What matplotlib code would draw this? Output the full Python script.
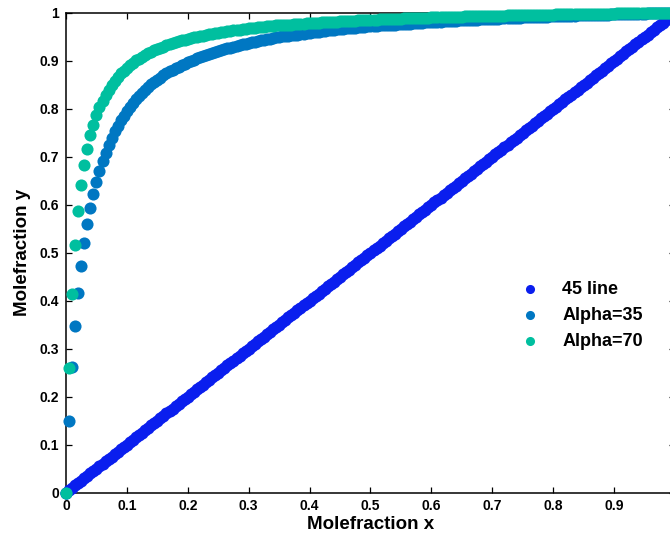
import matplotlib
matplotlib.use("Agg")
import matplotlib.pyplot as plt

plt.rcParams['font.family'] = ['Liberation Sans', 'DejaVu Sans']
plt.rcParams['font.weight'] = 'bold'

# liquid mole fraction x (evenly spaced markers)
mole_x = [
    0.000,
    0.005, 0.010, 0.015, 0.020, 0.025, 0.030, 0.035, 0.040, 0.045, 0.050,
    0.055, 0.060, 0.065, 0.070, 0.075, 0.080, 0.085, 0.090, 0.095, 0.100,
    0.105, 0.110, 0.115, 0.120, 0.125, 0.130, 0.135, 0.140, 0.145, 0.150,
    0.155, 0.160, 0.165, 0.170, 0.175, 0.180, 0.185, 0.190, 0.195, 0.200,
    0.205, 0.210, 0.215, 0.220, 0.225, 0.230, 0.235, 0.240, 0.245, 0.250,
    0.255, 0.260, 0.265, 0.270, 0.275, 0.280, 0.285, 0.290, 0.295, 0.300,
    0.305, 0.310, 0.315, 0.320, 0.325, 0.330, 0.335, 0.340, 0.345, 0.350,
    0.355, 0.360, 0.365, 0.370, 0.375, 0.380, 0.385, 0.390, 0.395, 0.400,
    0.405, 0.410, 0.415, 0.420, 0.425, 0.430, 0.435, 0.440, 0.445, 0.450,
    0.455, 0.460, 0.465, 0.470, 0.475, 0.480, 0.485, 0.490, 0.495, 0.500,
    0.505, 0.510, 0.515, 0.520, 0.525, 0.530, 0.535, 0.540, 0.545, 0.550,
    0.555, 0.560, 0.565, 0.570, 0.575, 0.580, 0.585, 0.590, 0.595, 0.600,
    0.605, 0.610, 0.615, 0.620, 0.625, 0.630, 0.635, 0.640, 0.645, 0.650,
    0.655, 0.660, 0.665, 0.670, 0.675, 0.680, 0.685, 0.690, 0.695, 0.700,
    0.705, 0.710, 0.715, 0.720, 0.725, 0.730, 0.735, 0.740, 0.745, 0.750,
    0.755, 0.760, 0.765, 0.770, 0.775, 0.780, 0.785, 0.790, 0.795, 0.800,
    0.805, 0.810, 0.815, 0.820, 0.825, 0.830, 0.835, 0.840, 0.845, 0.850,
    0.855, 0.860, 0.865, 0.870, 0.875, 0.880, 0.885, 0.890, 0.895, 0.900,
    0.905, 0.910, 0.915, 0.920, 0.925, 0.930, 0.935, 0.940, 0.945, 0.950,
    0.955, 0.960, 0.965, 0.970, 0.975, 0.980, 0.985, 0.990, 0.995, 1.000,
]

# 45-degree line: y equals x
y_45line = [
    0.000,
    0.005, 0.010, 0.015, 0.020, 0.025, 0.030, 0.035, 0.040, 0.045, 0.050,
    0.055, 0.060, 0.065, 0.070, 0.075, 0.080, 0.085, 0.090, 0.095, 0.100,
    0.105, 0.110, 0.115, 0.120, 0.125, 0.130, 0.135, 0.140, 0.145, 0.150,
    0.155, 0.160, 0.165, 0.170, 0.175, 0.180, 0.185, 0.190, 0.195, 0.200,
    0.205, 0.210, 0.215, 0.220, 0.225, 0.230, 0.235, 0.240, 0.245, 0.250,
    0.255, 0.260, 0.265, 0.270, 0.275, 0.280, 0.285, 0.290, 0.295, 0.300,
    0.305, 0.310, 0.315, 0.320, 0.325, 0.330, 0.335, 0.340, 0.345, 0.350,
    0.355, 0.360, 0.365, 0.370, 0.375, 0.380, 0.385, 0.390, 0.395, 0.400,
    0.405, 0.410, 0.415, 0.420, 0.425, 0.430, 0.435, 0.440, 0.445, 0.450,
    0.455, 0.460, 0.465, 0.470, 0.475, 0.480, 0.485, 0.490, 0.495, 0.500,
    0.505, 0.510, 0.515, 0.520, 0.525, 0.530, 0.535, 0.540, 0.545, 0.550,
    0.555, 0.560, 0.565, 0.570, 0.575, 0.580, 0.585, 0.590, 0.595, 0.600,
    0.605, 0.610, 0.615, 0.620, 0.625, 0.630, 0.635, 0.640, 0.645, 0.650,
    0.655, 0.660, 0.665, 0.670, 0.675, 0.680, 0.685, 0.690, 0.695, 0.700,
    0.705, 0.710, 0.715, 0.720, 0.725, 0.730, 0.735, 0.740, 0.745, 0.750,
    0.755, 0.760, 0.765, 0.770, 0.775, 0.780, 0.785, 0.790, 0.795, 0.800,
    0.805, 0.810, 0.815, 0.820, 0.825, 0.830, 0.835, 0.840, 0.845, 0.850,
    0.855, 0.860, 0.865, 0.870, 0.875, 0.880, 0.885, 0.890, 0.895, 0.900,
    0.905, 0.910, 0.915, 0.920, 0.925, 0.930, 0.935, 0.940, 0.945, 0.950,
    0.955, 0.960, 0.965, 0.970, 0.975, 0.980, 0.985, 0.990, 0.995, 1.000,
]

y_alpha35 = [
    0.000,
    0.150, 0.261, 0.348, 0.417, 0.473, 0.520, 0.559, 0.593, 0.623, 0.648,
    0.671, 0.691, 0.709, 0.725, 0.739, 0.753, 0.765, 0.776, 0.786, 0.795,
    0.804, 0.812, 0.820, 0.827, 0.833, 0.839, 0.845, 0.851, 0.856, 0.861,
    0.865, 0.870, 0.874, 0.878, 0.881, 0.885, 0.888, 0.891, 0.894, 0.897,
    0.900, 0.903, 0.906, 0.908, 0.910, 0.913, 0.915, 0.917, 0.919, 0.921,
    0.923, 0.925, 0.927, 0.928, 0.930, 0.932, 0.933, 0.935, 0.936, 0.938,
    0.939, 0.940, 0.942, 0.943, 0.944, 0.945, 0.946, 0.947, 0.949, 0.950,
    0.951, 0.952, 0.953, 0.954, 0.955, 0.955, 0.956, 0.957, 0.958, 0.959,
    0.960, 0.961, 0.961, 0.962, 0.963, 0.964, 0.964, 0.965, 0.966, 0.966,
    0.967, 0.968, 0.968, 0.969, 0.969, 0.970, 0.971, 0.971, 0.972, 0.972,
    0.973, 0.973, 0.974, 0.974, 0.975, 0.975, 0.976, 0.976, 0.977, 0.977,
    0.978, 0.978, 0.978, 0.979, 0.979, 0.980, 0.980, 0.981, 0.981, 0.981,
    0.982, 0.982, 0.982, 0.983, 0.983, 0.983, 0.984, 0.984, 0.985, 0.985,
    0.985, 0.985, 0.986, 0.986, 0.986, 0.987, 0.987, 0.987, 0.988, 0.988,
    0.988, 0.988, 0.989, 0.989, 0.989, 0.990, 0.990, 0.990, 0.990, 0.991,
    0.991, 0.991, 0.991, 0.992, 0.992, 0.992, 0.992, 0.992, 0.993, 0.993,
    0.993, 0.993, 0.994, 0.994, 0.994, 0.994, 0.994, 0.995, 0.995, 0.995,
    0.995, 0.995, 0.996, 0.996, 0.996, 0.996, 0.996, 0.996, 0.997, 0.997,
    0.997, 0.997, 0.997, 0.998, 0.998, 0.998, 0.998, 0.998, 0.998, 0.998,
    0.999, 0.999, 0.999, 0.999, 0.999, 0.999, 1.000, 1.000, 1.000, 1.000,
]

y_alpha70 = [
    0.000,
    0.260, 0.414, 0.516, 0.588, 0.642, 0.684, 0.717, 0.745, 0.767, 0.787,
    0.803, 0.817, 0.830, 0.840, 0.850, 0.859, 0.867, 0.874, 0.880, 0.886,
    0.891, 0.896, 0.901, 0.905, 0.909, 0.913, 0.916, 0.919, 0.922, 0.925,
    0.928, 0.930, 0.933, 0.935, 0.937, 0.939, 0.941, 0.943, 0.944, 0.946,
    0.948, 0.949, 0.950, 0.952, 0.953, 0.954, 0.956, 0.957, 0.958, 0.959,
    0.960, 0.961, 0.962, 0.963, 0.964, 0.965, 0.965, 0.966, 0.967, 0.968,
    0.968, 0.969, 0.970, 0.971, 0.971, 0.972, 0.972, 0.973, 0.974, 0.974,
    0.975, 0.975, 0.976, 0.976, 0.977, 0.977, 0.978, 0.978, 0.979, 0.979,
    0.979, 0.980, 0.980, 0.981, 0.981, 0.981, 0.982, 0.982, 0.982, 0.983,
    0.983, 0.984, 0.984, 0.984, 0.984, 0.985, 0.985, 0.985, 0.986, 0.986,
    0.986, 0.986, 0.987, 0.987, 0.987, 0.987, 0.988, 0.988, 0.988, 0.988,
    0.989, 0.989, 0.989, 0.989, 0.990, 0.990, 0.990, 0.990, 0.990, 0.991,
    0.991, 0.991, 0.991, 0.991, 0.992, 0.992, 0.992, 0.992, 0.992, 0.992,
    0.993, 0.993, 0.993, 0.993, 0.993, 0.993, 0.993, 0.994, 0.994, 0.994,
    0.994, 0.994, 0.994, 0.994, 0.995, 0.995, 0.995, 0.995, 0.995, 0.995,
    0.995, 0.996, 0.996, 0.996, 0.996, 0.996, 0.996, 0.996, 0.996, 0.996,
    0.997, 0.997, 0.997, 0.997, 0.997, 0.997, 0.997, 0.997, 0.997, 0.997,
    0.998, 0.998, 0.998, 0.998, 0.998, 0.998, 0.998, 0.998, 0.998, 0.998,
    0.999, 0.999, 0.999, 0.999, 0.999, 0.999, 0.999, 0.999, 0.999, 0.999,
    0.999, 0.999, 0.999, 1.000, 1.000, 1.000, 1.000, 1.000, 1.000, 1.000,
]

series_labels = ["45 line", "Alpha=35", "Alpha=70"]
series_colors = ["#0A1EEE", "#0077C2", "#00BF9F"]

tick_values = [0.0, 0.1, 0.2, 0.3, 0.4, 0.5, 0.6, 0.7, 0.8, 0.9, 1.0]
y_tick_labels = ["0", "0.1", "0.2", "0.3", "0.4", "0.5", "0.6", "0.7", "0.8", "0.9", "1"]
# the "1" on the x axis falls outside the cropped picture in the reference
x_tick_labels = ["0", "0.1", "0.2", "0.3", "0.4", "0.5", "0.6", "0.7", "0.8", "0.9", ""]

fig = plt.figure(figsize=(6.70, 5.38), dpi=100)
ax = fig.add_axes([66 / 670, (538 - 492.5) / 538, 609 / 670, 479.5 / 538])

series_y = [y_45line, y_alpha35, y_alpha70]
for ys, lab, col in zip(series_y, series_labels, series_colors):
    ax.scatter(mole_x, ys, s=76, color=col, linewidths=0, label=lab,
               clip_on=False, zorder=3)

ax.set_xlim(0, 1)
ax.set_ylim(0, 1)
ax.set_xticks(tick_values)
ax.set_xticklabels(x_tick_labels)
ax.set_yticks(tick_values)
ax.set_yticklabels(y_tick_labels)

ax.tick_params(direction='in', length=4, width=0.9, top=True, right=True,
               labelsize=10, pad=5, colors='black')
for lbl in ax.get_xticklabels() + ax.get_yticklabels():
    lbl.set_fontweight('bold')
for sp in ax.spines.values():
    sp.set_linewidth(1.1)

ax.set_xlabel("Molefraction x", fontsize=13.5, fontweight='bold', labelpad=2)
ax.set_ylabel("Molefraction y", fontsize=13.5, fontweight='bold', labelpad=6)

leg = ax.legend(loc='upper left', bbox_to_anchor=(0.72, 0.475), frameon=False,
                fontsize=13, handlelength=1.0, handletextpad=1.3,
                labelspacing=0.5, markerscale=0.75, borderpad=0.4)
for t in leg.get_texts():
    t.set_fontweight('bold')

fig.savefig("out.png", dpi=100)
